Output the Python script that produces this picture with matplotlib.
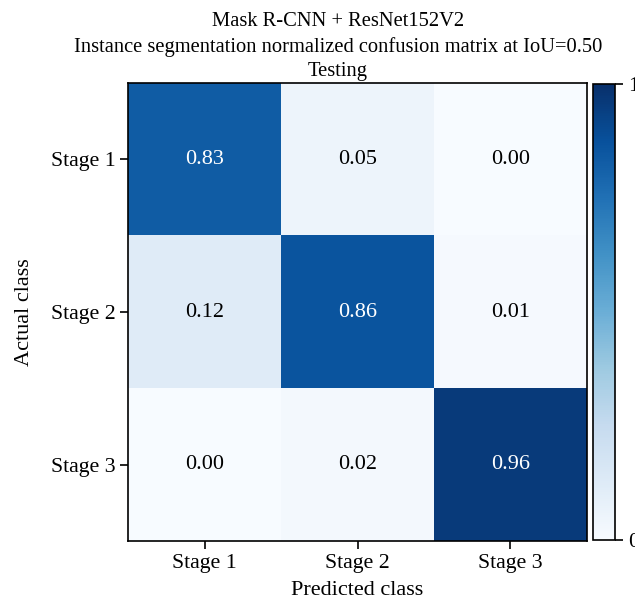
import matplotlib.pyplot as plt
import numpy as np

plt.rcParams["font.family"] = ["Liberation Serif", "DejaVu Serif"]
plt.rcParams["axes.linewidth"] = 1.2

classes = ["Stage 1", "Stage 2", "Stage 3"]
cm = np.array([
    [0.83, 0.05, 0.00],
    [0.12, 0.86, 0.01],
    [0.00, 0.02, 0.96],
])

fig = plt.figure(figsize=(6.35, 6.01), dpi=100)
ax = fig.add_axes([0.2016, 0.0998, 0.7228, 0.7621])
cax = fig.add_axes([0.934, 0.1015, 0.0346, 0.7587])

im = ax.imshow(cm, cmap="Blues", vmin=0, vmax=1, aspect="auto")

# cell values, white on the dark cells
for i in range(cm.shape[0]):
    for j in range(cm.shape[1]):
        ax.text(j, i, f"{cm[i, j]:.2f}", ha="center", va="center",
                fontsize=16, color="white" if cm[i, j] > 0.5 else "black")

ax.set_xticks(range(len(classes)))
ax.set_xticklabels(classes, fontsize=15.7)
ax.set_yticks(range(len(classes)))
ax.set_yticklabels(classes, fontsize=15.7)
ax.tick_params(length=6, width=1.2, pad=3)
ax.set_xlabel("Predicted class", fontsize=16, labelpad=6)
ax.set_ylabel("Actual class", fontsize=16, labelpad=12)
ax.set_title("Mask R-CNN + ResNet152V2\n"
             "Instance segmentation normalized confusion matrix at IoU=0.50\n"
             "Testing", fontsize=14.8, pad=5, x=0.4575, linespacing=1.38)

cb = fig.colorbar(im, cax=cax, ticks=[0, 1])
cb.ax.set_yticklabels(["0", "1"], fontsize=16)
cb.ax.tick_params(length=6, width=1.2)
cb.outline.set_linewidth(1.2)

fig.savefig("out.png", dpi=100)
